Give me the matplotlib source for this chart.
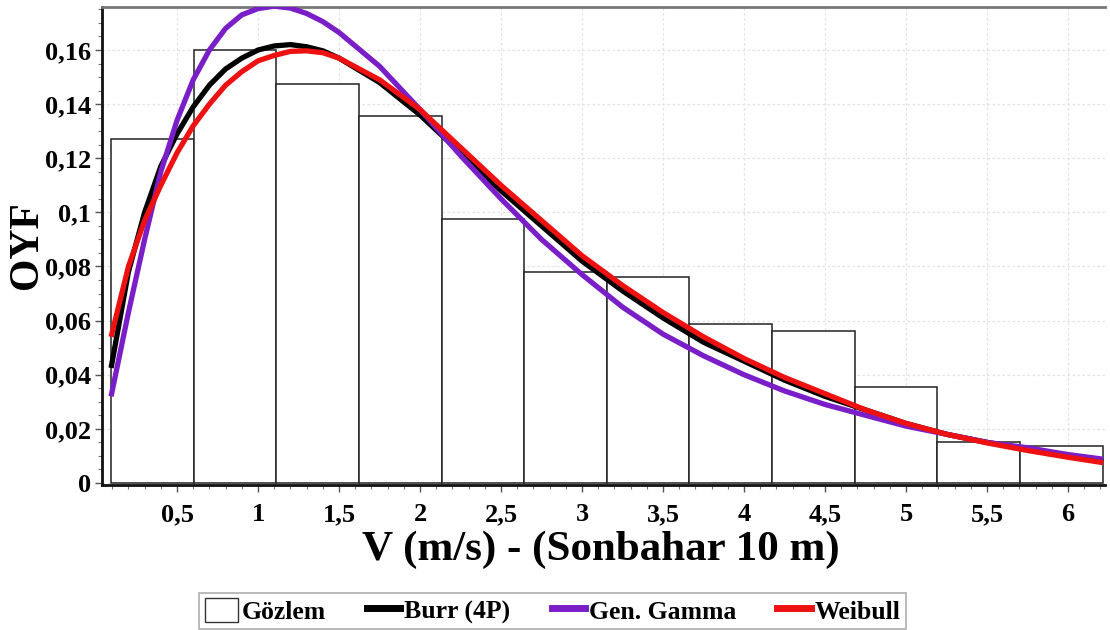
import matplotlib
matplotlib.use("Agg")
import matplotlib.pyplot as plt
from matplotlib.patches import Patch
from matplotlib.lines import Line2D
from matplotlib.ticker import FixedLocator, MultipleLocator

# ---- data ----
bin_edges = [0.093, 0.603, 1.113, 1.623, 2.133, 2.643, 3.153, 3.663, 4.173, 4.683, 5.193, 5.703, 6.216]
observed = [0.127, 0.160, 0.1475, 0.1355, 0.0976, 0.078, 0.0761, 0.0588, 0.0562, 0.0355, 0.0152, 0.0137]

curve_x = [0.093, 0.2, 0.3, 0.4, 0.5, 0.6, 0.7, 0.8, 0.9, 1.0, 1.1, 1.2, 1.3, 1.4, 1.5,
           1.75, 2.0, 2.25, 2.5, 2.75, 3.0, 3.25, 3.5, 3.75, 4.0, 4.25, 4.5, 4.75,
           5.0, 5.25, 5.5, 5.75, 6.0, 6.216]
burr = [0.0425, 0.078, 0.100, 0.117, 0.129, 0.139, 0.147, 0.153, 0.157, 0.160, 0.1615, 0.162,
        0.1612, 0.1597, 0.157, 0.148, 0.136, 0.122, 0.108, 0.095, 0.082, 0.071, 0.061, 0.052,
        0.045, 0.038, 0.032, 0.027, 0.022, 0.018, 0.015, 0.0125, 0.010, 0.008]
gen_gamma = [0.032, 0.063, 0.090, 0.115, 0.134, 0.149, 0.160, 0.168, 0.173, 0.1753, 0.1762,
             0.1755, 0.1735, 0.1705, 0.1665, 0.154, 0.138, 0.121, 0.105, 0.090, 0.077, 0.065,
             0.055, 0.047, 0.040, 0.034, 0.029, 0.025, 0.021, 0.018, 0.015, 0.013, 0.0105, 0.0088]
weibull = [0.054, 0.080, 0.097, 0.110, 0.122, 0.132, 0.140, 0.147, 0.152, 0.156, 0.158,
           0.1595, 0.1597, 0.159, 0.157, 0.149, 0.138, 0.124, 0.110, 0.097, 0.084, 0.073,
           0.063, 0.054, 0.046, 0.039, 0.033, 0.027, 0.022, 0.018, 0.0148, 0.012, 0.0095, 0.0075]

x_ticks = [0.5, 1, 1.5, 2, 2.5, 3, 3.5, 4, 4.5, 5, 5.5, 6]
x_tick_labels = ["0,5", "1", "1,5", "2", "2,5", "3", "3,5", "4", "4,5", "5", "5,5", "6"]
y_ticks = [0, 0.02, 0.04, 0.06, 0.08, 0.1, 0.12, 0.14, 0.16]
y_tick_labels = ["0", "0,02", "0,04", "0,06", "0,08", "0,1", "0,12", "0,14", "0,16"]

labels = ["Gözlem", "Burr (4P)", "Gen. Gamma", "Weibull"]
colors = {"burr": "#000000", "gamma": "#7a1fc8", "weibull": "#ee1111"}

# ---- plot ----
plt.rcParams['font.family'] = ['Liberation Serif', 'DejaVu Serif']
plt.rcParams['font.weight'] = 'bold'

fig = plt.figure(figsize=(11.1, 6.3), dpi=100)
ax = fig.add_axes([0.0919, 0.2302, 0.9036, 0.7587])

widths = [bin_edges[i + 1] - bin_edges[i] for i in range(len(observed))]
ax.bar(bin_edges[:-1], observed, width=widths, align='edge', facecolor='white',
       edgecolor='#222222', linewidth=1.1, zorder=2)

lw = 3.8
ax.plot(curve_x, burr, color=colors["burr"], lw=lw, zorder=3, solid_capstyle='butt')
ax.plot(curve_x, gen_gamma, color=colors["gamma"], lw=lw, zorder=4, solid_capstyle='butt')
ax.plot(curve_x, weibull, color=colors["weibull"], lw=lw, zorder=5, solid_capstyle='butt')

ax.set_xlim(0.037, 6.228)
ax.set_ylim(-0.00074, 0.1759)

ax.xaxis.set_major_locator(FixedLocator(x_ticks))
ax.set_xticklabels(x_tick_labels)
ax.xaxis.set_minor_locator(MultipleLocator(0.1))
ax.yaxis.set_major_locator(FixedLocator(y_ticks))
ax.set_yticklabels(y_tick_labels)
ax.yaxis.set_minor_locator(MultipleLocator(0.005))

ax.tick_params(axis='both', which='major', labelsize=19, length=5, width=1, direction='out', color='#555555')
ax.tick_params(axis='x', which='major', pad=8)
ax.tick_params(axis='y', which='major', pad=3)
ax.tick_params(axis='both', which='minor', length=3, width=0.8, direction='out', color='#777777')

ax.grid(True, which='major', color='#e2e2e2', linestyle=(0, (2, 2)), linewidth=0.9, zorder=0)
ax.set_axisbelow(True)

for side in ['left', 'bottom']:
    ax.spines[side].set_color('#111111')
    ax.spines[side].set_linewidth(2)
ax.spines['top'].set_color('#777777')
ax.spines['top'].set_linewidth(2)
ax.spines['right'].set_visible(False)

ax.set_xlabel("V (m/s) - (Sonbahar 10 m)", fontsize=31, fontweight='bold')
ax.xaxis.set_label_coords(0.497, -0.096)
ax.set_ylabel("OYF", fontsize=30, fontweight='bold')
ax.yaxis.set_label_coords(-0.056, 0.502)

handles = [Patch(facecolor='white', edgecolor='#333333', linewidth=1.0),
           Line2D([], [], color=colors["burr"], lw=5),
           Line2D([], [], color=colors["gamma"], lw=5),
           Line2D([], [], color=colors["weibull"], lw=5)]
leg = fig.legend(handles, labels, loc='center', bbox_to_anchor=(0.4977, 0.0302), ncol=4,
                 frameon=True, fancybox=False, edgecolor='#999999',
                 handlelength=1.3, handleheight=1.1, handletextpad=0.15, columnspacing=1.6,
                 borderpad=0.2, borderaxespad=0.0,
                 prop={'weight': 'bold', 'size': 18.5})
leg.get_frame().set_linewidth(1.2)

fig.savefig("out.png", dpi=100)
